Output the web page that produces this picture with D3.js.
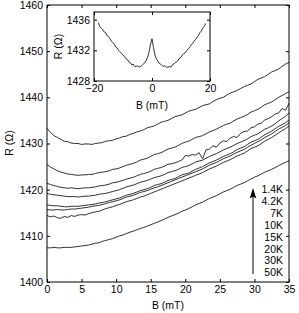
<!DOCTYPE html>
<html>
<head>
<meta charset="utf-8">
<script src="https://cdn.jsdelivr.net/npm/d3@7"></script>
<style>
  body { margin: 0; background: #fff; }
  svg text { font-family: "Liberation Sans", Arial, Helvetica, sans-serif; fill: #000; }
</style>
</head>
<body>
<svg id="chart" width="299" height="313"></svg>
<script>
// field values (mT) shared by all main curves
var fieldB = [0,0.5,1,1.5,2,2.5,3,3.5,4,4.5,5,5.5,6,6.5,7,7.5,8,8.5,9,9.5,10,10.5,11,11.5,12,12.5,13,13.5,14,14.5,15,15.5,16,16.5,17,17.5,18,18.5,19,19.5,20,20.5,21,21.5,22,22.5,23,23.5,24,24.5,25,25.5,26,26.5,27,27.5,28,28.5,29,29.5,30,30.5,31,31.5,32,32.5,33,33.5,34,34.5,35];

// R (ohm) at each temperature
var r1p4K = [1433.3,1432.4,1431.7,1431.3,1430.9,1430.5,1430.4,1430.1,1430.0,1430.0,1429.8,1429.9,1429.9,1429.8,1430.0,1430.1,1430.2,1430.5,1430.6,1430.7,1431.0,1431.2,1431.5,1431.6,1432.0,1432.2,1432.5,1432.7,1433.0,1433.4,1433.6,1433.8,1434.2,1434.6,1434.8,1435.0,1435.4,1435.8,1436.0,1436.2,1436.6,1437.0,1437.2,1437.4,1437.8,1438.2,1438.4,1438.6,1439.1,1439.5,1439.8,1440.0,1440.5,1440.9,1441.2,1441.5,1441.9,1442.3,1442.6,1442.9,1443.4,1443.9,1444.2,1444.5,1445.0,1445.5,1445.8,1446.1,1446.7,1447.2,1447.6];
var r4p2K = [1425.5,1424.9,1424.5,1424.1,1423.8,1423.6,1423.4,1423.3,1423.2,1423.1,1423.2,1423.2,1423.3,1423.3,1423.5,1423.7,1423.8,1423.9,1424.1,1424.4,1424.5,1424.7,1425.0,1425.3,1425.5,1425.7,1426.0,1426.4,1426.6,1426.8,1427.2,1427.6,1427.8,1428.0,1428.4,1428.8,1429.0,1429.2,1429.6,1430.0,1430.3,1430.5,1430.9,1431.3,1431.5,1431.7,1432.1,1432.5,1432.8,1433.1,1433.5,1433.9,1434.2,1434.4,1434.9,1435.3,1435.6,1435.9,1436.3,1436.8,1437.1,1437.4,1437.9,1438.4,1438.7,1439.0,1439.5,1440.0,1440.4,1440.8,1441.3];
var r7K = [1421.4,1421.1,1420.9,1420.7,1420.5,1420.4,1420.3,1420.4,1420.3,1420.2,1420.3,1420.4,1420.4,1420.5,1420.6,1420.8,1420.9,1421.0,1421.2,1421.5,1421.6,1421.8,1422.0,1422.3,1422.5,1422.7,1423.0,1423.3,1423.5,1423.7,1424.0,1424.4,1424.6,1424.8,1425.1,1425.5,1425.6,1425.8,1426.1,1426.4,1427.4,1427.3,1427.6,1427.5,1428.0,1426.7,1428.6,1428.8,1429.5,1429.2,1430.1,1430.6,1430.4,1431.2,1431.5,1431.3,1432.2,1432.6,1432.7,1433.4,1433.6,1434.2,1434.4,1435.1,1435.4,1435.8,1436.4,1436.6,1437.6,1437.2,1438.7];
var r10K = [1419.2,1419.0,1418.9,1418.8,1418.7,1418.6,1418.5,1418.5,1418.5,1418.4,1418.5,1418.6,1418.6,1418.7,1418.8,1419.0,1419.1,1419.2,1419.4,1419.6,1419.8,1420.0,1420.3,1420.6,1420.8,1421.0,1421.3,1421.6,1421.8,1422.0,1422.3,1422.6,1422.8,1423.0,1423.3,1423.7,1423.9,1424.1,1424.4,1424.8,1425.0,1425.2,1425.6,1426.0,1426.2,1426.4,1426.8,1427.2,1427.5,1427.8,1428.2,1428.6,1428.9,1429.2,1429.6,1430.0,1430.3,1430.6,1431.0,1431.5,1431.8,1432.1,1432.6,1433.1,1433.4,1433.8,1434.3,1434.9,1435.4,1435.9,1436.6];
var r15K = [1416.7,1416.6,1416.5,1416.5,1416.4,1416.3,1416.3,1416.4,1416.4,1416.4,1416.5,1416.6,1416.7,1416.8,1416.9,1417.1,1417.2,1417.4,1417.6,1417.8,1418.0,1418.2,1418.5,1418.8,1419.0,1419.2,1419.5,1419.8,1420.0,1420.2,1420.5,1420.9,1421.1,1421.3,1421.6,1422.0,1422.2,1422.4,1422.8,1423.2,1423.4,1423.6,1424.0,1424.4,1424.7,1425.0,1425.4,1425.8,1426.1,1426.4,1426.8,1427.2,1427.5,1427.8,1428.2,1428.7,1429.0,1429.3,1429.8,1430.3,1430.6,1430.9,1431.4,1431.9,1432.3,1432.7,1433.2,1433.7,1434.1,1434.5,1435.1];
var r20K = [1415.7,1415.6,1415.6,1415.7,1415.6,1415.6,1415.7,1415.8,1415.8,1415.9,1416.0,1416.1,1416.2,1416.4,1416.5,1416.6,1416.8,1417.0,1417.2,1417.4,1417.6,1417.8,1418.1,1418.4,1418.6,1418.8,1419.1,1419.4,1419.6,1419.8,1420.1,1420.4,1420.6,1420.9,1421.2,1421.5,1421.8,1422.1,1422.4,1422.7,1423.0,1423.3,1423.6,1423.9,1424.2,1424.5,1424.9,1425.3,1425.6,1425.9,1426.3,1426.7,1427.0,1427.3,1427.7,1428.1,1428.4,1428.7,1429.2,1429.6,1430.0,1430.4,1430.8,1431.3,1431.7,1432.1,1432.6,1433.1,1433.5,1433.9,1434.5];
var r30K = [1414.4,1414.1,1414.3,1413.9,1413.8,1414.2,1414.0,1414.4,1414.2,1414.5,1414.6,1414.5,1414.8,1415.0,1415.2,1415.3,1415.6,1415.9,1416.1,1416.3,1416.6,1416.8,1417.1,1417.4,1417.6,1417.8,1418.1,1418.4,1418.6,1418.9,1419.2,1419.5,1419.8,1420.1,1420.4,1420.7,1421.0,1421.3,1421.6,1421.9,1422.2,1422.5,1422.8,1423.1,1423.4,1423.7,1424.1,1424.5,1424.8,1425.1,1425.5,1425.9,1426.2,1426.5,1426.9,1427.3,1427.6,1427.9,1428.4,1428.9,1429.2,1429.5,1430.0,1430.5,1430.9,1431.3,1431.8,1432.3,1432.8,1433.2,1433.8];
var r50K = [1407.4,1407.4,1407.5,1407.4,1407.4,1407.5,1407.5,1407.5,1407.6,1407.7,1407.8,1407.9,1408.0,1408.2,1408.4,1408.5,1408.8,1409.0,1409.2,1409.4,1409.7,1410.0,1410.2,1410.5,1410.8,1411.0,1411.3,1411.6,1411.8,1412.1,1412.4,1412.7,1413.0,1413.3,1413.6,1414.0,1414.3,1414.6,1414.9,1415.3,1415.6,1415.9,1416.3,1416.7,1417.0,1417.3,1417.7,1418.1,1418.4,1418.7,1419.1,1419.5,1419.8,1420.1,1420.5,1420.9,1421.2,1421.5,1421.9,1422.3,1422.7,1423.0,1423.4,1423.8,1424.1,1424.4,1424.8,1425.2,1425.6,1425.9,1426.3];

var tempLabels = ["1.4K","4.2K","7K","10K","15K","20K","30K","50K"];

// inset: 1.4K sweep through zero field
var insetB = [-18.5,-18,-17.5,-17,-16.5,-16,-15.5,-15,-14.5,-14,-13.5,-13,-12.5,-12,-11.5,-11,-10.5,-10,-9.5,-9,-8.5,-8,-7.5,-7,-6.5,-6,-5.5,-5,-4.5,-4,-3.5,-3,-2.5,-2,-1.5,-1,-0.5,0,0.5,1,1.5,2,2.5,3,3.5,4,4.5,5,5.5,6,6.5,7,7.5,8,8.5,9,9.5,10,10.5,11,11.5,12,12.5,13,13.5,14,14.5,15,15.5,16,16.5,17,17.5,18,18.5];
var insetR = [1435.6,1435.1,1434.9,1434.7,1434.4,1434.3,1433.9,1433.8,1433.5,1433.2,1433.0,1432.8,1432.4,1432.3,1432.0,1431.8,1431.6,1431.4,1431.2,1430.9,1430.8,1430.5,1430.4,1430.1,1430.2,1429.9,1429.9,1430.0,1429.8,1429.9,1430.0,1430.2,1430.4,1430.7,1431.1,1431.8,1432.8,1433.5,1432.4,1431.4,1430.9,1430.6,1430.3,1430.2,1430.0,1429.9,1430.0,1429.8,1429.8,1429.9,1429.8,1430.1,1430.2,1430.4,1430.5,1430.7,1431.0,1431.1,1431.4,1431.6,1431.7,1432.0,1432.2,1432.4,1432.7,1432.9,1433.2,1433.4,1433.7,1433.9,1434.3,1434.5,1434.9,1435.1,1435.5];

var xTicks = [0,5,10,15,20,25,30,35];
var yTicks = [1400,1410,1420,1430,1440,1450,1460];
var insetXTicks = [-20,0,20];
var insetYTicks = [1428,1432,1436];

var curves = [r1p4K, r4p2K, r7K, r10K, r15K, r20K, r30K, r50K];

var svg = d3.select("#chart");
var fs = "10.5px";

var x = d3.scaleLinear().domain([0, 35]).range([47, 289]);
var y = d3.scaleLinear().domain([1400, 1460]).range([282, 5]);

var line = d3.line()
    .x(function(d, i) { return x(fieldB[i]); })
    .y(function(d) { return y(d); });

svg.append("g").selectAll("path")
    .data(curves)
  .enter().append("path")
    .attr("d", line)
    .attr("fill", "none")
    .attr("stroke", "#1a1a1a")
    .attr("stroke-width", 0.9);

// axes, MATLAB style: ticks pointing in, on all four sides
function styleAxis(g) {
  g.select(".domain").remove();
  g.selectAll("line").attr("stroke", "#000");
  g.selectAll("text").style("font-size", fs).attr("fill", "#000");
}

svg.append("g").attr("transform", "translate(47,0)")
    .call(d3.axisLeft(y).tickValues(yTicks).tickSizeInner(-3).tickSizeOuter(0).tickPadding(4).tickFormat(d3.format("d")))
    .call(styleAxis);
svg.append("g").attr("transform", "translate(289,0)")
    .call(d3.axisRight(y).tickValues(yTicks).tickSizeInner(-3).tickSizeOuter(0).tickFormat(""))
    .call(styleAxis);
svg.append("g").attr("transform", "translate(0,282)")
    .call(d3.axisBottom(x).tickValues(xTicks).tickSizeInner(-3).tickSizeOuter(0).tickPadding(4))
    .call(styleAxis);
svg.append("g").attr("transform", "translate(0,5)")
    .call(d3.axisTop(x).tickValues(xTicks).tickSizeInner(-3).tickSizeOuter(0).tickFormat(""))
    .call(styleAxis);

svg.append("rect")
    .attr("x", 47).attr("y", 5)
    .attr("width", 289 - 47).attr("height", 282 - 5)
    .attr("fill", "none").attr("stroke", "#000").attr("stroke-width", 1);

svg.append("text")
    .attr("x", 168).attr("y", 309)
    .attr("text-anchor", "middle").style("font-size", fs)
    .text("B (mT)");
svg.append("text")
    .attr("transform", "translate(13,143) rotate(-90)")
    .attr("text-anchor", "middle").style("font-size", fs)
    .text("R (\u03a9)");

// temperature arrow and labels
svg.append("line")
    .attr("x1", 253).attr("x2", 253)
    .attr("y1", 274).attr("y2", 196)
    .attr("stroke", "#000").attr("stroke-width", 1);
svg.append("path")
    .attr("d", "M253,188 L256.3,198.5 L253,196.5 L249.7,198.5 Z")
    .attr("fill", "#000");

svg.append("g").selectAll("text")
    .data(tempLabels)
  .enter().append("text")
    .attr("x", 283)
    .attr("y", function(d, i) { return 189.3 + i * 11.9; })
    .attr("dy", "0.36em")
    .attr("text-anchor", "end")
    .style("font-size", fs)
    .text(function(d) { return d; });

// inset
var ix = d3.scaleLinear().domain([-20, 20]).range([94, 210]);
var iy = d3.scaleLinear().domain([1428, 1437]).range([81, 12]);

svg.append("rect")
    .attr("x", 94).attr("y", 12)
    .attr("width", 210 - 94).attr("height", 81 - 12)
    .attr("fill", "#fff");

svg.append("path")
    .datum(insetR)
    .attr("d", d3.line()
        .x(function(d, i) { return ix(insetB[i]); })
        .y(function(d) { return iy(d); }))
    .attr("fill", "none")
    .attr("stroke", "#1a1a1a")
    .attr("stroke-width", 0.9);

svg.append("g").attr("transform", "translate(94,0)")
    .call(d3.axisLeft(iy).tickValues(insetYTicks).tickSizeInner(-3).tickSizeOuter(0).tickPadding(4).tickFormat(d3.format("d")))
    .call(styleAxis);
svg.append("g").attr("transform", "translate(210,0)")
    .call(d3.axisRight(iy).tickValues(insetYTicks).tickSizeInner(-3).tickSizeOuter(0).tickFormat(""))
    .call(styleAxis);
svg.append("g").attr("transform", "translate(0,81)")
    .call(d3.axisBottom(ix).tickValues(insetXTicks).tickSizeInner(-3).tickSizeOuter(0).tickPadding(4))
    .call(styleAxis);
svg.append("g").attr("transform", "translate(0,12)")
    .call(d3.axisTop(ix).tickValues(insetXTicks).tickSizeInner(-3).tickSizeOuter(0).tickFormat(""))
    .call(styleAxis);

svg.append("rect")
    .attr("x", 94).attr("y", 12)
    .attr("width", 210 - 94).attr("height", 81 - 12)
    .attr("fill", "none").attr("stroke", "#000").attr("stroke-width", 1);

svg.append("text")
    .attr("x", 152).attr("y", 109)
    .attr("text-anchor", "middle").style("font-size", fs)
    .text("B (mT)");
svg.append("text")
    .attr("transform", "translate(62,46.5) rotate(-90)")
    .attr("text-anchor", "middle").style("font-size", fs)
    .text("R (\u03a9)");
</script>
</body>
</html>
